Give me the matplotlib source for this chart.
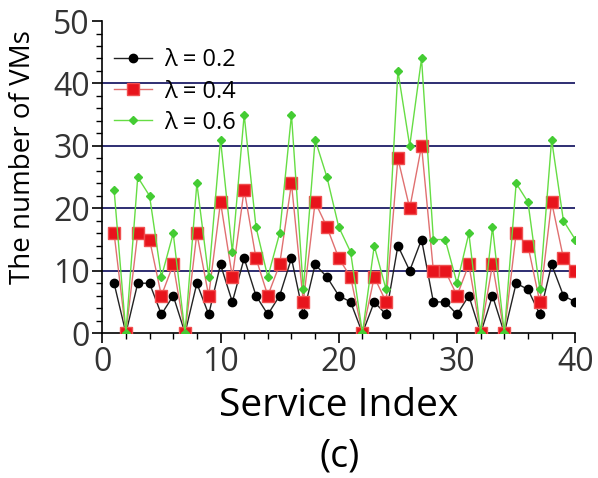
import matplotlib
matplotlib.use('Agg')
import matplotlib.pyplot as plt
from matplotlib.ticker import MultipleLocator

plt.rcParams['font.family'] = ['Open Sans', 'DejaVu Sans']

service = list(range(1, 41))
vm_02 = [8, 0, 8, 8, 3, 6, 0, 8, 3, 11, 5, 12, 6, 3, 6, 12, 3, 11, 9, 6,
         5, 0, 5, 3, 14, 10, 15, 5, 5, 3, 6, 0, 6, 0, 8, 7, 3, 11, 6, 5]
vm_04 = [16, 0, 16, 15, 6, 11, 0, 16, 6, 21, 9, 23, 12, 6, 11, 24, 5, 21, 17, 12,
         9, 0, 9, 5, 28, 20, 30, 10, 10, 6, 11, 0, 11, 0, 16, 14, 5, 21, 12, 10]
vm_06 = [23, 0, 25, 22, 9, 16, 0, 24, 9, 31, 13, 35, 17, 9, 16, 35, 7, 31, 25, 17,
         13, 0, 14, 7, 42, 30, 44, 15, 15, 8, 16, 0, 17, 0, 24, 21, 7, 31, 18, 15]
labels = ['\u03bb = 0.2', '\u03bb = 0.4', '\u03bb = 0.6']

fig = plt.figure(figsize=(5.98, 4.78), dpi=100)
ax = fig.add_axes([0.171, 0.303, 0.791, 0.653])

for v in [10, 20, 30, 40]:
    ax.axhline(v, color='#2e2e72', lw=1.4, zorder=1)

ax.plot(service, vm_02, color='#222222', lw=1.0, marker='o', ms=6,
        mfc='black', mec='black', label=labels[0], zorder=3)
ax.plot(service, vm_04, color='#e07070', lw=1.0, marker='s', ms=8,
        mfc='#e8141c', mec='#f05050', label=labels[1], zorder=4)
ax.plot(service, vm_06, color='#66dd44', lw=1.0, marker='D', ms=4,
        mfc='#44cc33', mec='#44cc33', label=labels[2], zorder=5)

ax.set_xlim(0, 40)
ax.set_ylim(0, 50)
ax.xaxis.set_major_locator(MultipleLocator(10))
ax.xaxis.set_minor_locator(MultipleLocator(2))
ax.yaxis.set_major_locator(MultipleLocator(10))
ax.yaxis.set_minor_locator(MultipleLocator(2))
ax.tick_params(which='major', length=7, width=1.2, labelsize=23, labelcolor='#333333', pad=2)
ax.tick_params(which='minor', length=4, width=1.0)
ax.spines['top'].set_visible(False)
ax.spines['right'].set_visible(False)
ax.spines['left'].set_linewidth(1.2)
ax.spines['bottom'].set_linewidth(1.2)

ax.set_ylabel('The number of VMs', fontsize=20)
ax.yaxis.set_label_coords(-0.137, 0.565)
ax.set_xlabel('Service Index', fontsize=28, labelpad=6)
fig.text(0.568, 0.045, '(c)', fontsize=27, ha='center', va='center')

ax.legend(loc='upper left', frameon=False, fontsize=17, handlelength=1.6,
          handletextpad=0.5, borderaxespad=0.1, labelspacing=0.3,
          bbox_to_anchor=(0.0, 0.95))

fig.savefig('out.png', dpi=100)
